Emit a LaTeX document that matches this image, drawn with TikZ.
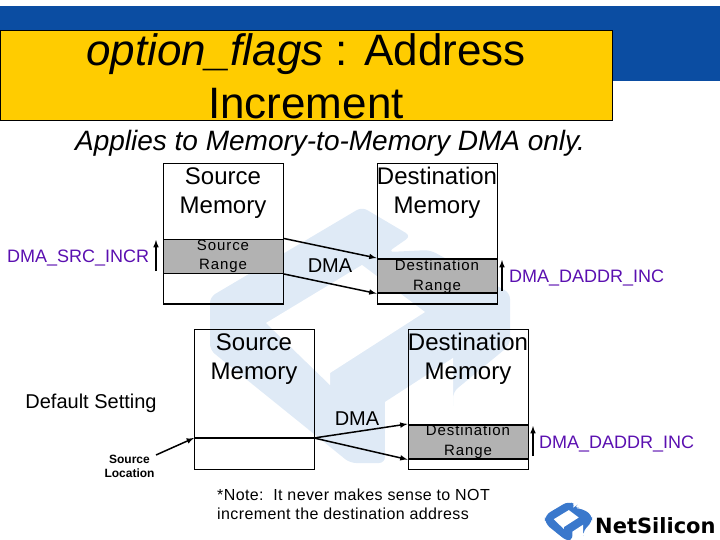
\documentclass[tikz,border=0pt]{standalone}
\usepackage{fontspec}
\setmainfont{Liberation Sans}
\newfontfamily\logofont{DejaVu Sans}
\newfontfamily\widefont[LetterSpace=6]{Liberation Sans}
\newfontfamily\notefont[LetterSpace=2.5]{Liberation Sans}
\definecolor{bandblue}{HTML}{0B4DA2}
\definecolor{titlegold}{HTML}{FFCC00}
\definecolor{rangegray}{HTML}{B2B2B2}
\definecolor{regpurple}{HTML}{5A0FB0}
\definecolor{markpale}{HTML}{DFEAF6}
\definecolor{markblue}{HTML}{3A78CC}
\newcommand{\logomark}[1]{%
  \fill[#1, rounded corners=6pt] (210,297) -- (362,207) -- (411,236) -- (388,252) -- (430,250)
    -- (510,293) -- (510,345) -- (453,392) -- (453,412) -- (385,400) -- (385,463) -- (350,463) -- (210,350) -- cycle;
  \fill[white] (266,323) -- (362,265) -- (425,312) -- (330,373) -- (330,385) -- cycle;
  \fill[white] (385,402) -- (453,358) -- (453,410) -- (462,420) -- (385,465) -- cycle;
}
\tikzset{
  memlabel/.style={align=center, font=\fontsize{24}{29}\selectfont, inner sep=0pt},
  rangelabel/.style={align=center, font=\widefont\fontsize{15}{19.5}\selectfont, inner sep=0pt},
  reglabel/.style={anchor=base west, text=regpurple, font=\fontsize{18}{20}\selectfont, inner sep=0pt},
  membox/.style={draw, line width=1.5pt, anchor=north west, minimum width=120pt, minimum height=140pt, inner sep=0pt},
  rangebox/.style={draw, fill=rangegray, line width=1.5pt, anchor=north west, minimum width=120pt, minimum height=34pt, inner sep=0pt},
  dmaline/.style={line width=1.5pt, -latex},
  incrline/.style={line width=1.5pt, -latex},
}
\begin{document}
\begin{tikzpicture}[x=1pt, y=-1pt]
  \useasboundingbox (0,0) rectangle (720,540);
  % header
  \fill[bandblue] (0,6) rectangle (720,81);
  \node[draw, fill=titlegold, line width=0.6pt, anchor=north west, minimum width=612pt, minimum height=90pt, inner sep=0pt] (titlebox) at (0,30) {};
  \node[align=center, inner sep=0pt, font=\fontsize{44}{53}\selectfont] (titletext) at (306,76) {\textit{option\_flags} : Address\\Increment};
  \node[inner sep=0pt, font=\fontsize{28}{30}\selectfont\itshape] (appliestext) at (330,143) {Applies to Memory-to-Memory DMA only.};
  % logo watermark
  \logomark{markpale}
  % upper pair
  \node[rangebox] (srcrange) at (162.5,238.5) {};
  \node[rangebox] (dstrange) at (376.5,258) {};
  \node[membox] (srcmem) at (162.5,163) {};
  \node[membox] (dstmem) at (376.5,163) {};
  \node[memlabel] (srclabel) at (223,193) {Source\\Memory};
  \node[memlabel] (dstlabel) at (437,193) {Destination\\Memory};
  \node[rangelabel] at (223,256.5) {Source\\Range};
  \node[rangelabel] at (437,276.5) {Destination\\Range};
  \draw[dmaline] (srcrange.north east) -- (dstrange.north west);
  \draw[dmaline] (srcrange.south east) -- (dstrange.south west);
  \node[memlabel, font=\fontsize{20}{24}\selectfont] (dmaupper) at (330,265.5) {DMA};
  \node[reglabel] (srcincr) at (7,262) {DMA\_SRC\_INCR};
  \coordinate (srcincrlow) at (156,271);
  \coordinate (srcincrtop) at (156,240);
  \draw[incrline] (srcincrlow) -- (srcincrtop);
  \node[reglabel] (dstincr) at (509,282) {DMA\_DADDR\_INC};
  \coordinate (dstincrlow) at (502,291);
  \coordinate (dstincrtop) at (502,260);
  \draw[incrline] (dstincrlow) -- (dstincrtop);
  % lower pair
  \node[rangebox] (dstrangeb) at (407.5,424) {};
  \node[membox] (srcmemb) at (193.5,328.5) {};
  \node[membox] (dstmemb) at (407.5,328.5) {};
  \node[memlabel] (srclabelb) at (254,359) {Source\\Memory};
  \node[memlabel] (dstlabelb) at (468,359) {Destination\\Memory};
  \node[rangelabel] at (468,441.5) {Destination\\Range};
  \coordinate (srcloca) at (194,438);
  \coordinate (srclocb) at (314,438);
  \draw[line width=1.5pt] (srcloca) -- (srclocb);
  \draw[dmaline] (srclocb) -- (dstrangeb.north west);
  \draw[dmaline] (srclocb) -- (dstrangeb.south west);
  \node[memlabel, font=\fontsize{20}{24}\selectfont] (dmalower) at (357,419) {DMA};
  \node[reglabel] (dstincrb) at (539,448) {DMA\_DADDR\_INC};
  \coordinate (dstincrblow) at (533,456);
  \coordinate (dstincrbtop) at (533,426);
  \draw[incrline] (dstincrblow) -- (dstincrbtop);
  \node[inner sep=0pt, font=\fontsize{20}{22}\selectfont] (defaulttext) at (91,403) {Default Setting};
  \node[align=center, inner sep=0pt, font=\bfseries\fontsize{12}{14.5}\selectfont] (srcloctext) at (129.5,466.5) {Source\\Location};
  \coordinate (srclocarrow) at (156,455);
  \draw[dmaline] (srclocarrow) -- (srcloca);
  \node[align=left, anchor=north west, inner sep=0pt, font=\notefont\fontsize{16}{19}\selectfont] (notetext) at (217,489) {*Note:\ \ It never makes sense to NOT\\increment the destination address};
  % corner logo
  \begin{scope}[shift={(512,468.5)}, scale=0.157]
    \logomark{markblue}
  \end{scope}
  \node[anchor=base west, inner sep=0pt, font=\logofont\bfseries\fontsize{21}{24}\selectfont] (logotext) at (595,533) {NetSilicon};
\end{tikzpicture}
\end{document}
